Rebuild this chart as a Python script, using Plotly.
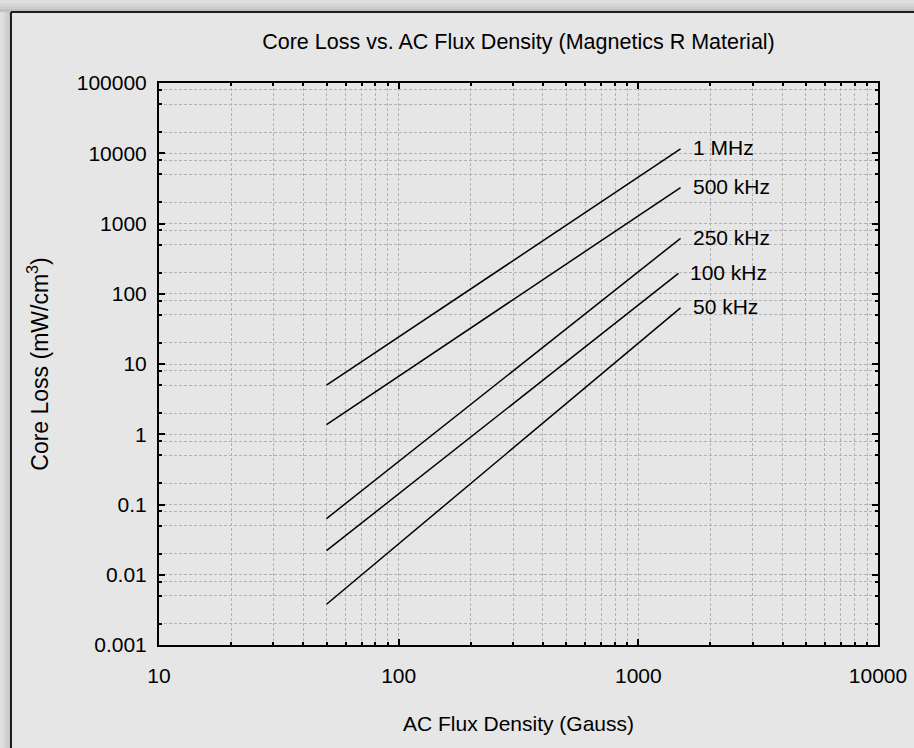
import math
import plotly.graph_objects as go

# ---- data ----
freq_labels = ["1 MHz", "500 kHz", "250 kHz", "100 kHz", "50 kHz"]
flux_start = [50, 50, 50, 50, 50]            # Gauss
flux_end = [1500, 1500, 1500, 1470, 1500]    # Gauss
loss_start = [5.0, 1.37, 0.063, 0.022, 0.0038]   # mW/cm3
loss_end = [11500, 3250, 615, 195, 63]           # mW/cm3

x_tick_vals = [10, 100, 1000, 10000]
x_tick_text = ["10", "100", "1000", "10000"]
y_tick_vals = [0.001, 0.01, 0.1, 1, 10, 100, 1000, 10000, 100000]
y_tick_text = ["0.001", "0.01", "0.1", "1", "10", "100", "1000", "10000", "100000"]
x_minor = [m * d for d in (10, 100, 1000) for m in range(2, 10)]
y_minor = [m * d for d in (0.001, 0.01, 0.1, 1, 10, 100, 1000, 10000) for m in (2, 5, 8)]

FONT = "Liberation Sans, Arial, Helvetica, sans-serif"
INK = "#000"
W, H = 914, 748
ML, MR, MT, MB = 159, 36, 83, 103
PW, PH = W - ML - MR, H - MT - MB


def px(xp):  # pixel -> paper x
    return (xp - ML) / PW


def py(yp):  # pixel -> paper y
    return (H - MB - yp) / PH


fig = go.Figure()

for name, x0, x1, y0, y1 in zip(freq_labels, flux_start, flux_end, loss_start, loss_end):
    fig.add_trace(go.Scatter(
        x=[x0, x1], y=[y0, y1], mode="lines", name=name,
        line=dict(color="black", width=1.5), showlegend=False
    ))
    # annotations on log axes take log10 positions
    fig.add_annotation(
        x=math.log10(x1), y=math.log10(y1), xref="x", yref="y", text=name,
        showarrow=False, xanchor="left", yanchor="middle", xshift=10, yshift=1,
        font=dict(family=FONT, size=21, color=INK)
    )

# frame with drop shadow round the chart
shadow = ["#e0e0e0", "#d8d8d8", "#cecece", "#c0c0c0"]
for i, c in enumerate(shadow):
    fig.add_shape(type="rect", xref="paper", yref="paper", layer="below",
                  x0=px(0), x1=px(W), y0=py(i * 3), y1=py(i * 3 + 3),
                  line=dict(width=0), fillcolor=c)
    fig.add_shape(type="rect", xref="paper", yref="paper", layer="below",
                  x0=px(i * 3), x1=px(i * 3 + 3), y0=py(H), y1=py(i * 3),
                  line=dict(width=0), fillcolor=c)
fig.add_shape(type="line", xref="paper", yref="paper", layer="below",
              x0=px(11), x1=px(W + 5), y0=py(12), y1=py(12),
              line=dict(color="#1e1e1e", width=2))
fig.add_shape(type="line", xref="paper", yref="paper", layer="below",
              x0=px(11), x1=px(11), y0=py(12), y1=py(H + 5),
              line=dict(color="#1e1e1e", width=2))

grid = dict(gridcolor="#b2b2b2", griddash="3px,2px", gridwidth=1)

fig.update_xaxes(
    type="log", range=[1, 4], tickvals=x_tick_vals, ticktext=x_tick_text,
    ticks="inside", ticklen=6, tickwidth=1.5, tickcolor="black",
    showline=True, linecolor="black", linewidth=2, mirror="ticks",
    showgrid=True, **grid, zeroline=False, ticklabelstandoff=11,
    tickfont=dict(family=FONT, size=21, color=INK),
    minor=dict(tickvals=x_minor, ticks="inside", ticklen=3, tickcolor="black",
               showgrid=True, **grid),
    title=dict(text="AC Flux Density (Gauss)", standoff=30,
               font=dict(family=FONT, size=21, color=INK)),
)
fig.update_yaxes(
    type="log", range=[-3, 5], tickvals=y_tick_vals, ticktext=y_tick_text,
    ticks="inside", ticklen=6, tickwidth=1.5, tickcolor="black",
    showline=True, linecolor="black", linewidth=2, mirror="ticks",
    showgrid=True, **grid, zeroline=False, ticklabelstandoff=6,
    tickfont=dict(family=FONT, size=21, color=INK),
    minor=dict(tickvals=y_minor, ticks="inside", ticklen=3, tickcolor="black",
               showgrid=True, **grid),
    title=dict(text="Core Loss (mW/cm<sup>3</sup>)", standoff=22,
               font=dict(family=FONT, size=23, color=INK)),
)

fig.update_layout(
    width=W, height=H,
    margin=dict(l=ML, r=MR, t=MT, b=MB, autoexpand=False),
    paper_bgcolor="#e6e6e6", plot_bgcolor="#e6e6e6",
    title=dict(text="Core Loss vs. AC Flux Density (Magnetics R Material)",
               x=0.5, xanchor="center", xref="paper", y=1 - 41 / H, yanchor="middle",
               font=dict(family=FONT, size=21.5, color=INK)),
    showlegend=False,
)

fig.write_html("out.html", config={"displayModeBar": False},
               post_script="document.body.style.margin = '0';")
